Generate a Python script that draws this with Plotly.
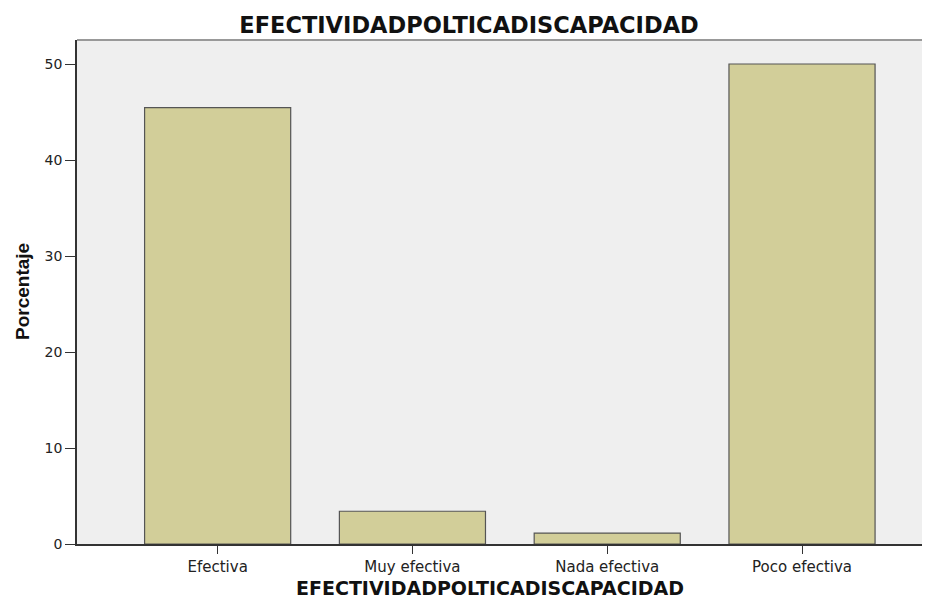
import plotly.graph_objects as go

categorias = ["Efectiva", "Muy efectiva", "Nada efectiva", "Poco efectiva"]
porcentaje = [45.45, 3.41, 1.14, 50.0]
y_ticks = [0, 10, 20, 30, 40, 50]
titulo = "EFECTIVIDADPOLTICADISCAPACIDAD"

# la pagina deja 8 px de margen en el body: la figura se reduce para compensar
W, H = 922, 593

fig = go.Figure()
fig.add_trace(go.Bar(x=categorias, y=porcentaje,
                     marker=dict(color="#D2CE99", line=dict(color="#555555", width=1.2))))

fig.update_layout(
    width=W, height=H,
    margin=dict(l=69, r=0, t=32, b=57),
    paper_bgcolor="white", plot_bgcolor="#EFEFEF",
    bargap=0.25, showlegend=False,
    font=dict(family="DejaVu Sans", color="#222222"),
    title=dict(text="<b>" + titulo + "</b>", xref="container", yref="container",
               x=461 / W, y=1 - 17 / H, xanchor="center", yanchor="middle",
               font=dict(family="DejaVu Sans", size=22.5, color="#111111")),
)
fig.update_xaxes(range=[-0.722, 3.657], showgrid=False, showline=True,
                 linecolor="#333333", linewidth=1.5, ticks="outside", ticklen=8,
                 tickcolor="#333333", tickfont=dict(size=15, color="#222222"))
fig.update_yaxes(range=[0, 52.5], tickvals=y_ticks, showgrid=False, zeroline=False,
                 showline=True, linecolor="#333333", linewidth=1.5, ticks="outside",
                 ticklen=10, tickcolor="#333333", tickfont=dict(size=14, color="#222222"))

# borde superior del area de trazado
fig.add_shape(type="line", xref="paper", yref="paper", x0=0, x1=1, y0=1, y1=1,
              line=dict(color="#999999", width=2))

fig.add_annotation(text="<b>" + titulo + "</b>", xref="paper", yref="paper",
                   x=(482 - 69) / 853, y=-44 / 504, xanchor="center", yanchor="middle",
                   showarrow=False, font=dict(family="DejaVu Sans", size=19, color="#111111"))
fig.add_annotation(text="<b>Porcentaje</b>", xref="paper", yref="paper",
                   x=(14 - 69) / 853, y=0.5, xanchor="center", yanchor="middle",
                   textangle=-90, showarrow=False,
                   font=dict(family="Liberation Sans", size=19, color="#111111"))

fig.write_html("out.html")
